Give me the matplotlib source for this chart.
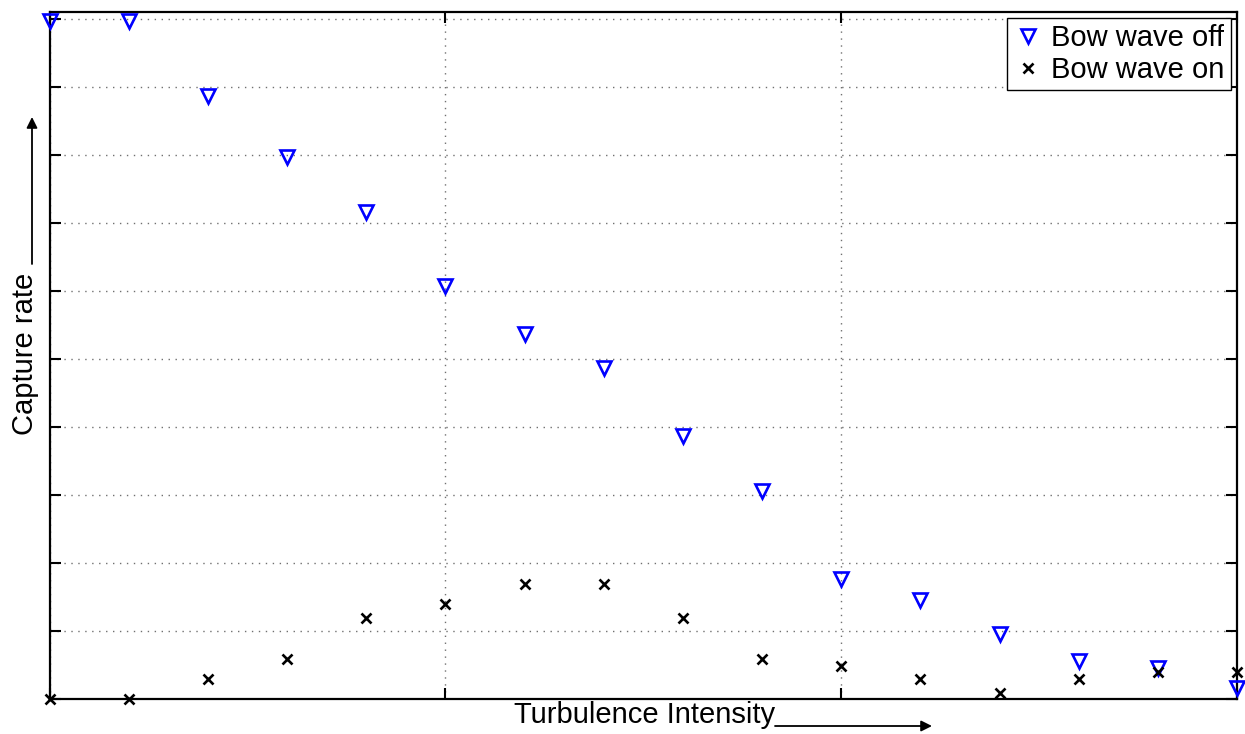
import numpy as np
import matplotlib
matplotlib.use("Agg")
import matplotlib.pyplot as plt

plt.rcParams["font.family"] = ["Liberation Sans", "DejaVu Sans"]

turbulence = np.arange(16)
bow_off = [0.997, 0.997, 0.887, 0.797, 0.716, 0.607, 0.537, 0.487,
           0.387, 0.306, 0.176, 0.146, 0.096, 0.056, 0.046, 0.016]
bow_on = [0.0, 0.0, 0.029, 0.059, 0.119, 0.140, 0.169, 0.169,
          0.119, 0.059, 0.049, 0.029, 0.009, 0.029, 0.040, 0.040]

fig = plt.figure(figsize=(12.45, 7.34), dpi=100)
ax = fig.add_axes([49.5 / 1245, 35 / 734, (1237 - 49.5) / 1245, 687 / 734])

ax.plot(turbulence, bow_off, linestyle="none", marker="v", markersize=10.5,
        markerfacecolor="none", markeredgecolor="#0000ff", markeredgewidth=1.9,
        label="Bow wave off", clip_on=False, zorder=3)
ax.plot(turbulence, bow_on, linestyle="none", marker="x", markersize=6.5,
        color="black", markeredgewidth=1.9, label="Bow wave on",
        clip_on=False, zorder=3)

ax.set_xlim(0, 15)
ax.set_ylim(0, 1.0103)
ax.set_xticks([0, 5, 10, 15])
ax.set_yticks(np.arange(0, 1.01, 0.1))
ax.set_xticklabels([])
ax.set_yticklabels([])
ax.tick_params(direction="in", length=8, width=1.5, top=True, right=True)
for s in ax.spines.values():
    s.set_linewidth(1.6)
ax.grid(True, color="#707070", linestyle=(0, (1, 4)), linewidth=1.0)
ax.set_axisbelow(True)

leg = ax.legend(loc="upper right", fontsize=21, fancybox=False, framealpha=1,
                edgecolor="black", borderaxespad=0.2, handletextpad=0.3,
                handlelength=1.0, borderpad=0.22, labelspacing=0.12)
leg.get_frame().set_linewidth(1.0)

fig.text(645 / 1245, 11 / 734, "Turbulence Intensity", fontsize=21,
         ha="center", va="baseline")
fig.text(25 / 1245, 1 - 353.5 / 734, "Capture rate", fontsize=21,
         rotation=90, ha="center", va="center")

arrow = dict(arrowstyle="-|>", color="black", lw=1.3, mutation_scale=16,
             shrinkA=0, shrinkB=0)
ax.annotate("", xy=(932, 8), xytext=(775, 8), xycoords="figure pixels",
            textcoords="figure pixels", arrowprops=arrow, annotation_clip=False)
ax.annotate("", xy=(32, 734 - 117), xytext=(32, 734 - 264),
            xycoords="figure pixels", textcoords="figure pixels",
            arrowprops=arrow, annotation_clip=False)

fig.savefig("out.png", dpi=100)
